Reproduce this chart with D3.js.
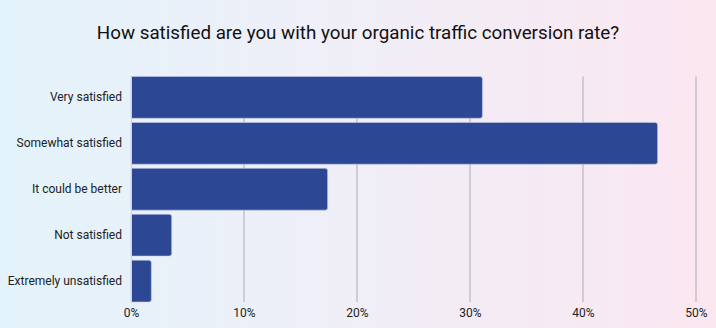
<!DOCTYPE html>
<html><head><meta charset="utf-8">
<script src="https://cdn.jsdelivr.net/npm/d3@7"></script>
<style>
html,body{margin:0;padding:0;}
body{width:716px;height:328px;overflow:hidden;background:linear-gradient(to right,#e3f3fb 0%,#efeff8 45%,#fbe7f0 100%);font-family:Roboto,"Noto Sans",sans-serif;}
</style></head>
<body>
<svg id="chart" width="716" height="328"></svg>
<script>
const title = "How satisfied are you with your organic traffic conversion rate?";
const categories = ["Very satisfied","Somewhat satisfied","It could be better","Not satisfied","Extremely unsatisfied"];
const values = [31.1, 46.6, 17.4, 3.6, 1.8];
const ticks = [0,10,20,30,40,50];

const svg = d3.select("#chart");
const x = d3.scaleLinear().domain([0,50]).range([131,696]);
const y = d3.scaleBand().domain(categories).range([76.5,302]).paddingInner(0.09).paddingOuter(0);

svg.append("text").attr("x",358).attr("y",39).attr("text-anchor","middle")
  .attr("font-size",18.8).attr("fill","#111").text(title);

// gridlines
svg.append("g").selectAll("line").data(ticks.slice(1)).join("line")
  .attr("x1",d=>x(d)).attr("x2",d=>x(d)).attr("y1",76.5).attr("y2",302)
  .attr("stroke","#bdb9c2").attr("stroke-width",1.3);

// bars with rounded right corners
const r = 2.5;
svg.append("g").selectAll("path").data(categories).join("path")
  .attr("d",(c,i)=>{
    const x0=x(0), x1=x(values[i]), y0=y(c), h=y.bandwidth();
    return `M${x0},${y0}H${x1-r}Q${x1},${y0} ${x1},${y0+r}V${y0+h-r}Q${x1},${y0+h} ${x1-r},${y0+h}H${x0}Z`;
  })
  .attr("fill","#2c4894").attr("stroke","#c8cbe6").attr("stroke-width",0.6);

// y axis labels
const ya = svg.append("g").attr("transform",`translate(${x(0)},0)`)
  .call(d3.axisLeft(y).tickSize(0).tickPadding(9));
ya.select(".domain").attr("stroke","#c9d3e6").attr("stroke-width",1);
ya.selectAll("text").attr("font-size",12).attr("fill","#222").attr("font-family","Roboto");

// x axis labels
const xa = svg.append("g").attr("transform",`translate(0,302)`)
  .call(d3.axisBottom(x).tickValues(ticks).tickFormat(d=>d+"%").tickSize(0).tickPadding(6));
xa.select(".domain").remove();
xa.selectAll("text").attr("font-size",12).attr("fill","#222").attr("font-family","Roboto");
</script>
</body></html>
